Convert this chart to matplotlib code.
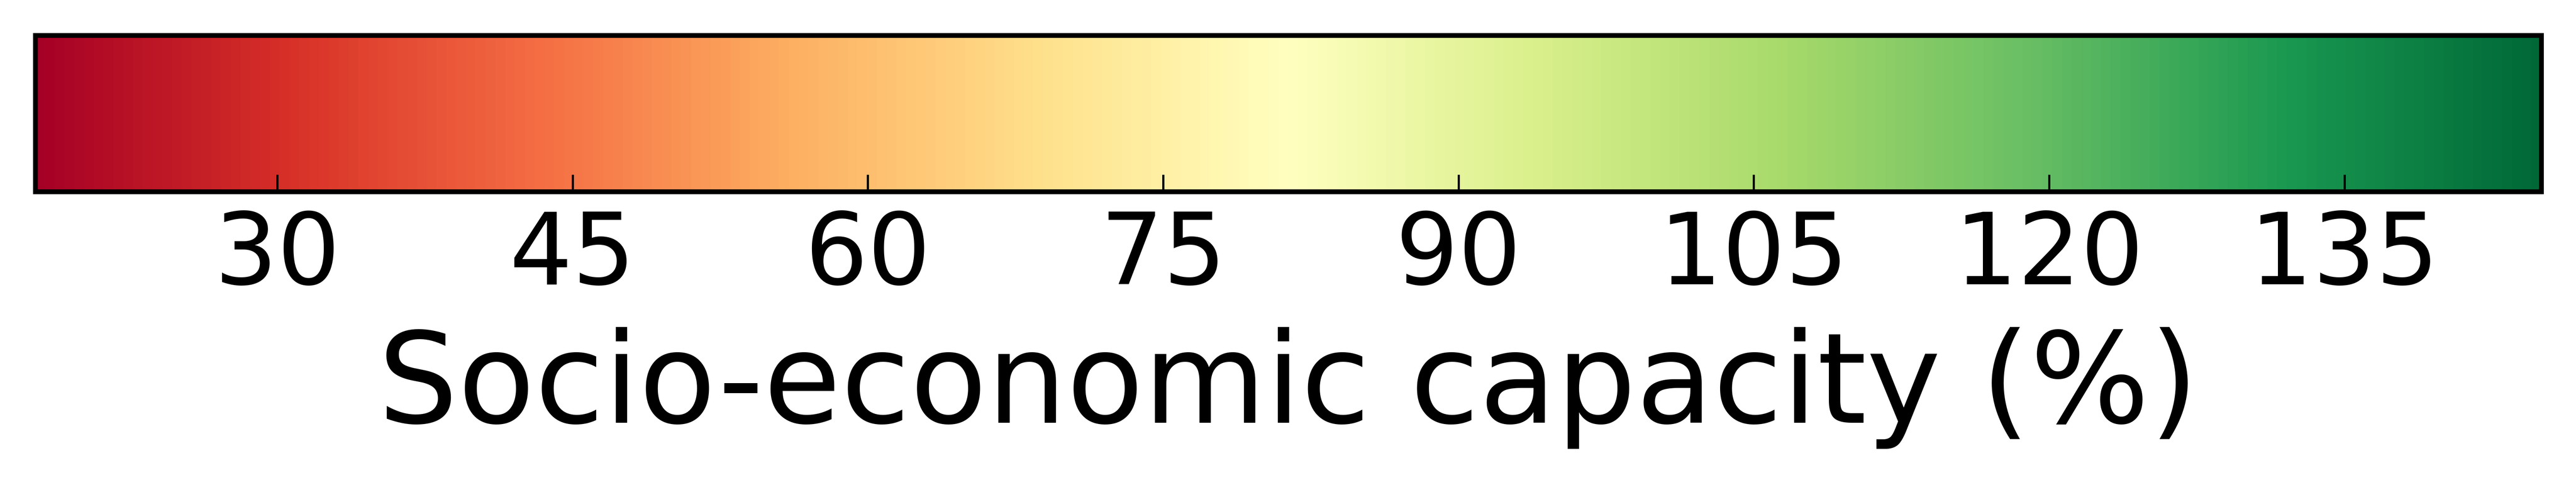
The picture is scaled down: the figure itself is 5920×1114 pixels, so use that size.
import numpy as np
import matplotlib
matplotlib.use("Agg")
from matplotlib import pyplot as plt
from matplotlib import cm, colors

# colour scale limits and ticks
vmin = 17.7
vmax = 145.0
ticks = [30, 45, 60, 75, 90, 105, 120, 135]
label = "Socio-economic capacity (%)"

dpi = 400
fig = plt.figure(figsize=(5920 / dpi, 1114 / dpi), dpi=dpi)
cax = fig.add_axes([80.7 / 5920, 1 - 440 / 1114, (5840 - 80.7) / 5920, (440 - 80.5) / 1114])

norm = colors.Normalize(vmin=vmin, vmax=vmax)
sm = cm.ScalarMappable(norm=norm, cmap="RdYlGn")
cb = fig.colorbar(sm, cax=cax, orientation="horizontal", ticks=ticks)
cb.outline.set_linewidth(2)
cb.ax.tick_params(direction="in", length=7, width=0.9, labelsize=41, pad=7)
cb.set_label(label, fontsize=52, labelpad=9)

fig.savefig("out.png", dpi=dpi)
